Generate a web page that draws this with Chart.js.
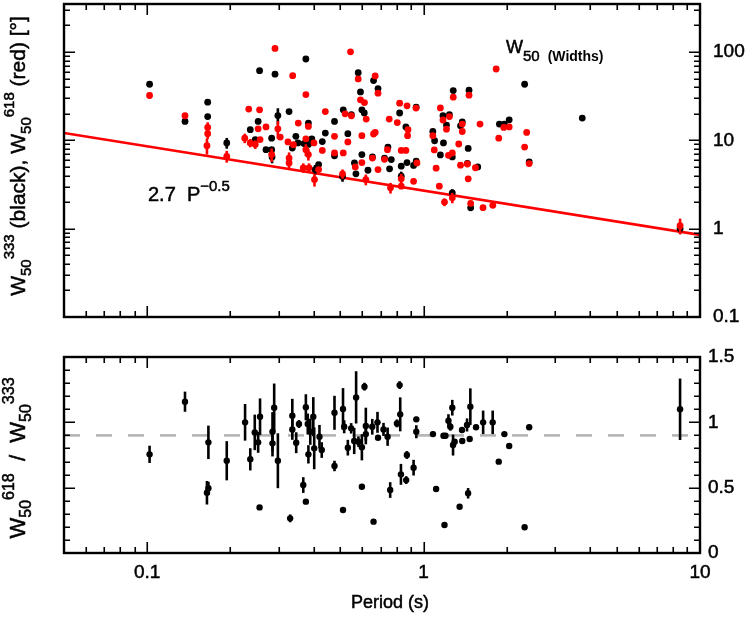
<!DOCTYPE html>
<html><head><meta charset="utf-8">
<script src="https://cdn.jsdelivr.net/npm/chart.js@4"></script>
<style>
html,body{margin:0;padding:0;background:#fff;}
#wrap{position:relative;width:750px;height:623px;background:#fff;}
canvas{position:absolute;left:0;top:0;}
</style>
</head><body>
<div id="wrap"><canvas id="c1" width="750" height="623"></canvas><canvas id="c2" width="750" height="623"></canvas></div>
<script>
// ---------- DATA ----------
// Top panel: W50 at 333 MHz (black)
const blackP = [0.102,0.137,0.1655,0.1655,0.194,0.255,0.290,0.236,0.252,0.246,0.269,0.282,0.282,0.283,0.297,0.326,0.375,0.58,0.591,0.598,0.61,0.659,0.684,0.383,0.345,0.351,0.369,0.394,0.383,0.335,0.405,0.417,0.43,0.441,0.476,0.476,0.509,0.512,0.532,0.548,0.562,0.569,0.598,0.629,0.653,0.722,0.743,0.753,0.764,0.819,0.83,0.83,0.863,0.871,0.92,0.94,0.94,1.08,1.096,2.32,3.75,1.28,1.46,1.24,1.175,1.21,1.38,1.36,1.88,1.96,2.04,2.41,1.18,1.15,1.27,1.45,1.44,1.57,1.27,1.48,8.47];
const blackW = [43.2,16.4,27.1,18.6,9.35,61.5,56.1,13.2,16.4,10.2,7.85,10.6,7.85,6.5,19.1,21.2,83.4,58.4,35.4,22.2,20.4,47.5,38.6,15.7,11.1,9.35,9.2,10.4,9.0,8.2,4.67,5.32,9.7,12.1,16.4,6.7,3.9,22.2,11.9,19.5,5.56,4.18,6.9,4.59,6.5,6.3,8.4,4.76,6.06,20.4,5.1,3.93,14.2,5.6,5.2,5.8,23.7,12.6,9.9,43.2,17.9,36.6,37,19.5,19.0,14.9,16.2,14.6,15.3,15.3,17.1,5.7,9.35,6.85,6.5,8.1,5.5,5.0,2.55,1.73,1.0];
const blackErr = [0,0,0,0,1.3,0,0,0,0,0,0,0,0,1.0,4,0,0,0,0,0,0,0,0,0,0,0,0,0,0,0,0.6,0,0,0,0,0,0.5,0,0,0,0,0,0,0,0,0,0,0,0,0,0,0.5,0,0,0,0,0,0,0,0,0,0,0,0,0,0,0,0,0,0,0,0,0,0,0,0,0,0,0.25,0.15,0.1];
// Top panel: W50 at 618 MHz (red)
const redP = [0.102,0.137,0.1655,0.1655,0.1645,0.194,0.233,0.255,0.290,0.2254,0.252,0.236,0.246,0.256,0.269,0.282,0.297,0.303,0.323,0.336,0.375,0.544,0.58,0.591,0.611,0.62,0.668,0.684,0.352,0.383,0.338,0.375,0.401,0.375,0.383,0.326,0.326,0.367,0.385,0.403,0.417,0.441,0.43,0.476,0.476,0.509,0.512,0.52,0.532,0.548,0.566,0.598,0.598,0.618,0.653,0.659,0.668,0.684,0.722,0.74,0.751,0.759,0.819,0.803,0.83,0.83,0.83,0.863,0.878,0.875,0.871,0.946,0.939,0.92,1.08,1.83,1.28,1.46,1.15,1.24,1.175,1.21,1.38,1.38,1.6,1.95,2.04,1.87,2.36,2.32,2.41,1.093,1.23,1.27,1.34,1.36,1.44,1.11,1.54,1.45,1.14,1.27,1.19,1.48,1.64,1.78,8.47];
const redW = [32.2,19.0,14.0,11.9,8.7,6.6,22.6,22.2,110,10.6,13.5,9.35,9.0,10.2,14.2,6.9,13.5,10.9,9.6,54,33,100.7,49.6,28.8,26.8,17.4,53.6,34.2,15.7,14.4,8.94,10.4,9.35,7.85,6.9,6.3,5.56,4.89,4.89,3.6,4.67,21.2,7.7,11.1,7.2,4.18,7.2,20,9.6,19,5.0,5.6,11.3,3.6,6.3,11.8,12.3,4.67,6.1,7.85,17.4,2.9,26.4,15.9,7.7,3.67,3.03,7.7,13.2,11.3,24.6,5.56,23.2,3.44,11.3,64.3,30.8,32.5,23.3,18.6,17.0,13.4,15.3,12.6,15.3,14.0,14.2,10.6,12.3,8.4,5.46,7.8,6.77,7.2,9.1,5.24,5.4,4.84,4.9,3.67,3.03,2.24,2.0,1.93,1.73,1.84,1.08];
const redErr = [2.5,0,2,1.5,1.8,1.0,0,0,0,1.3,0,1.0,1.0,0,0,1.2,3.0,0,0,0,0,0,0,0,0,0,0,0,0,0,0,0,0,1.2,1.0,1.0,0.8,0.6,0.6,0.6,0,0,0,0,0,0.5,0,0,0,0,0,0,0,0.5,0,0,0,0,0,0,0,0.4,0,0,0,0.5,0,0,0,0,0,0,0,0,0,0,0,0,0,0,0,0,0,0,0,0,0,0,0,0,0,0,0,0,0,0,0,0,0,0,0,0.3,0.2,0,0,0,0.22];
// Fit line 2.7 P^-0.5, end points read at the frame edges
const fitP = [0.05, 10];
const fitW = [12.1, 0.85];
// Bottom panel: W50(618)/W50(333)
const ratioP = [0.102,0.137,0.1665,0.1645,0.1665,0.194,0.226,0.236,0.245,0.252,0.256,0.255,0.288,0.284,0.284,0.297,0.335,0.335,0.346,0.354,0.375,0.381,0.383,0.367,0.375,0.329,0.389,0.399,0.402,0.42,0.428,0.476,0.476,0.511,0.516,0.511,0.570,0.611,0.547,0.532,0.561,0.581,0.598,0.618,0.618,0.598,0.652,0.681,0.684,0.659,0.716,0.741,0.801,0.823,0.819,0.87,0.828,0.865,0.92,0.757,0.941,0.941,1.081,1.11,1.18,1.2,1.19,1.23,1.27,1.25,1.278,1.295,1.35,1.38,1.377,1.449,1.436,1.468,1.476,1.548,1.642,1.778,1.87,1.96,2.04,2.32,2.41,8.47];
const ratioV = [0.755,1.158,0.847,0.461,0.495,0.706,1.0,0.717,0.923,0.847,1.043,0.349,1.112,0.928,0.839,0.706,1.05,0.946,0.844,0.987,1.115,0.987,0.755,0.52,0.393,0.265,0.928,1.043,0.801,0.89,0.788,1.073,0.666,1.102,0.966,0.329,1.191,1.273,0.954,0.806,0.857,0.852,0.809,0.972,0.91,0.507,0.966,1.0,0.882,0.24,0.946,0.89,0.992,1.061,1.285,0.75,0.602,0.558,0.653,0.482,1.023,0.928,0.91,0.49,0.897,0.897,0.214,1.012,1.112,0.966,0.826,0.852,0.354,0.857,0.941,0.457,0.98,0.872,1.12,0.962,1.0,1.0,0.699,0.91,0.819,0.197,0.962,1.1];
const ratioErr = [0.066,0.077,0.128,0.09,0.05,0.15,0.14,0.085,0.136,0.08,0.14,0,0.185,0.15,0.10,0.21,0.13,0.08,0.08,0.03,0.1,0.08,0.07,0.06,0,0.03,0.1,0.15,0.16,0.09,0.06,0.13,0.04,0.16,0.05,0,0.2,0.03,0.04,0.06,0.1,0.04,0.1,0.14,0.05,0,0.06,0.08,0,0,0.05,0.07,0.03,0.13,0.03,0.03,0.08,0.03,0.06,0.06,0.02,0.05,0.02,0.02,0.02,0.02,0.02,0.05,0.06,0.03,0.08,0,0,0,0.02,0.04,0.05,0,0.14,0.02,0.09,0.09,0,0,0,0,0.02,0.235];
const refRatio = 0.9;
// Axis ticks
const xTickVals = [0.1, 1, 10];
const xTickLabels = ['0.1', '1', '10'];
const yTopTickVals = [0.1, 1, 10, 100];
const yTopTickLabels = ['0.1', '1', '10', '100'];
const yBotTickVals = [0, 0.5, 1, 1.5];
const yBotTickLabels = ['0', '0.5', '1', '1.5'];
const xTitle = 'Period (s)';

// ---------- helpers ----------
const FONT = "'Liberation Sans', Arial, Helvetica, sans-serif";
const pts = (xs, ys) => xs.map((x, i) => ({x, y: ys[i]}));
function logMinor(min, max) {
  const out = [];
  for (let d = Math.floor(Math.log10(min)); d <= Math.ceil(Math.log10(max)); d++) {
    for (let k = 2; k <= 9; k++) { const v = k * Math.pow(10, d); if (v >= min * 0.999 && v <= max * 1.001) out.push(v); }
  }
  return out;
}
function drawRich(ctx, parts, x0, y0, rot, center) {
  ctx.save();
  ctx.translate(x0, y0); ctx.rotate(rot);
  ctx.fillStyle = '#000'; ctx.strokeStyle = '#000'; ctx.lineWidth = 0.5;
  ctx.textBaseline = 'alphabetic'; ctx.textAlign = 'left';
  let total = 0;
  const f = p => (p.b ? 'bold ' : '') + p.s + 'px ' + FONT;
  parts.forEach(p => { ctx.font = f(p); p.w = ctx.measureText(p.t).width + (p.gap || 0); total += p.w; });
  let x = center ? -total / 2 : 0;
  parts.forEach(p => { ctx.font = f(p); ctx.fillText(p.t, x + (p.gap || 0), p.dy || 0); if (!p.b) ctx.strokeText(p.t, x + (p.gap || 0), p.dy || 0); x += p.w; });
  ctx.restore();
}
const errorBars = {
  id: 'errorBars',
  beforeDatasetDraw(chart, args) {
    const ds = chart.data.datasets[args.index];
    if (!ds.errors) return;
    const ctx = chart.ctx, ys = chart.scales.y, xs = chart.scales.x;
    const a = chart.chartArea;
    ctx.save();
    ctx.beginPath(); ctx.rect(a.left, a.top, a.right - a.left, a.bottom - a.top); ctx.clip();
    ctx.strokeStyle = ds.backgroundColor; ctx.lineWidth = 2.6; ctx.lineCap = 'butt';
    ds.data.forEach((p, i) => {
      const e = ds.errors[i]; if (!e) return;
      const px = xs.getPixelForValue(p.x);
      const lo = Math.max(p.y - e, ys.min);
      ctx.beginPath();
      ctx.moveTo(px, ys.getPixelForValue(p.y + e));
      ctx.lineTo(px, ys.getPixelForValue(lo));
      ctx.stroke();
    });
    ctx.restore();
  }
};
function frameTicks(yMajor, yMinor) {
  return {
    id: 'frameTicks',
    afterDraw(chart) {
      const ctx = chart.ctx, a = chart.chartArea, xs = chart.scales.x, ys = chart.scales.y;
      ctx.save();
      ctx.strokeStyle = '#000';
      ctx.lineWidth = 1.6;
      const xMinor = logMinor(xs.min, xs.max);
      const tick = (v, len, isX) => {
        if (isX) {
          const p = Math.round(xs.getPixelForValue(v)) + 0.25;
          ctx.beginPath(); ctx.moveTo(p, a.bottom); ctx.lineTo(p, a.bottom - len);
          ctx.moveTo(p, a.top); ctx.lineTo(p, a.top + len); ctx.stroke();
        } else {
          const p = Math.round(ys.getPixelForValue(v)) + 0.25;
          ctx.beginPath(); ctx.moveTo(a.left, p); ctx.lineTo(a.left + len, p);
          ctx.moveTo(a.right, p); ctx.lineTo(a.right - len, p); ctx.stroke();
        }
      };
      xTickVals.forEach(v => tick(v, 11, true));
      xMinor.forEach(v => { if (!xTickVals.includes(v)) tick(v, 6, true); });
      yMajor.forEach(v => tick(v, 11, false));
      yMinor.forEach(v => tick(v, 6, false));
      ctx.lineWidth = 2.4;
      ctx.strokeRect(a.left, a.top, a.right - a.left, a.bottom - a.top);
      ctx.restore();
    }
  };
}
const annotTop = {
  id: 'annotTop',
  afterDraw(chart) {
    const ctx = chart.ctx;
    drawRich(ctx, [{t: 'W', s: 21}, {t: '50', s: 15, dy: 6}, {t: '333', s: 15, dy: -11}, {t: ' (black), W', s: 21}, {t: '50', s: 15, dy: 6}, {t: '618', s: 15, dy: -11}, {t: ' (red) [°]', s: 21}], 25, 156, -Math.PI / 2, true);
    drawRich(ctx, [{t: '2.7  P', s: 20}, {t: '\u22120.5', s: 15, dy: -10}], 148, 201, 0, false);
    drawRich(ctx, [{t: 'W', s: 18}, {t: '50', s: 15, dy: 8}, {t: '(Widths)', s: 14, dy: 8, gap: 8, b: true}], 506, 53, 0, false);
  }
};
const annotBot = {
  id: 'annotBot',
  afterDraw(chart) {
    drawRich(chart.ctx, [{t: 'W', s: 22}, {t: '50', s: 16, dy: 6}, {t: '618', s: 16, dy: -11}, {t: '  /  W', s: 22}, {t: '50', s: 16, dy: 6}, {t: '333', s: 16, dy: -11}], 25, 458, -Math.PI / 2, true);
    const ctx = chart.ctx;
    ctx.save();
    ctx.font = '18px ' + FONT; ctx.fillStyle = '#000'; ctx.strokeStyle = '#000'; ctx.lineWidth = 0.5;
    ctx.textAlign = 'center'; ctx.textBaseline = 'middle';
    ctx.fillText(xTitle, 390, 603); ctx.strokeText(xTitle, 390, 603);
    ctx.restore();
  }
};
const tickFont = {family: FONT, size: 19};

// ---------- top chart ----------
new Chart(document.getElementById('c1'), {
  type: 'scatter',
  data: {datasets: [
    {label: 'fit', data: pts(fitP, fitW), showLine: true, borderColor: '#ff0000', borderWidth: 2.6, pointRadius: 0, order: 3},
    {label: 'W50 333', data: pts(blackP, blackW), errors: blackErr, backgroundColor: '#000000', borderWidth: 0, pointRadius: 3.4, order: 2},
    {label: 'W50 618', data: pts(redP, redW), errors: redErr, backgroundColor: '#ff0000', borderWidth: 0, pointRadius: 3.4, order: 1}
  ]},
  options: {
    responsive: false, animation: false, events: [],
    layout: {padding: {left: 64, top: 3, right: 0, bottom: 0}},
    plugins: {legend: {display: false}, tooltip: {enabled: false}},
    scales: {
      x: {type: 'logarithmic', min: 0.05, max: 10, position: 'bottom',
          grid: {display: false, drawTicks: false}, border: {display: false},
          ticks: {display: false},
          afterFit(s) { s.height = 623 - 317; s.paddingLeft = 0; s.paddingRight = 0; }},
      y: {type: 'logarithmic', min: 0.1, max: 350, position: 'right',
          grid: {display: false, drawTicks: false}, border: {display: false},
          afterBuildTicks(s) { s.ticks = yTopTickVals.map(v => ({value: v})); },
          ticks: {font: tickFont, color: '#000', padding: 13, textStrokeColor: '#000', textStrokeWidth: 0.5,
                  callback: (v) => yTopTickLabels[yTopTickVals.indexOf(v)] ?? ''},
          afterFit(s) { s.width = 50; s.paddingTop = 0; s.paddingBottom = 0; }}
    }
  },
  plugins: [errorBars, frameTicks(yTopTickVals, logMinor(0.1, 350)), annotTop]
});

// ---------- bottom chart ----------
const yBotMinor = [];
for (let k = 1; k < 15; k++) if (k % 5) yBotMinor.push(k / 10);
new Chart(document.getElementById('c2'), {
  type: 'scatter',
  data: {datasets: [
    {label: 'ref', data: pts(fitP, [refRatio, refRatio]), showLine: true, borderColor: '#b4b4b4', borderWidth: 2.6, borderDash: [16, 16], pointRadius: 0, order: 3},
    {label: 'ratio', data: pts(ratioP, ratioV), errors: ratioErr, backgroundColor: '#000000', borderWidth: 0, pointRadius: 3.2, order: 1}
  ]},
  options: {
    responsive: false, animation: false, events: [],
    layout: {padding: {left: 64, top: 357, right: 0, bottom: 0}},
    plugins: {legend: {display: false}, tooltip: {enabled: false}},
    scales: {
      x: {type: 'logarithmic', min: 0.05, max: 10, position: 'bottom',
          grid: {display: false, drawTicks: false}, border: {display: false},
          afterBuildTicks(s) { s.ticks = xTickVals.map(v => ({value: v})); },
          ticks: {font: tickFont, color: '#000', padding: 8, maxRotation: 0, autoSkip: false,
                  textStrokeColor: '#000', textStrokeWidth: 0.5,
                  callback: (v) => xTickLabels[xTickVals.indexOf(v)] ?? ''},
          afterFit(s) { s.height = 623 - 553; s.paddingLeft = 0; s.paddingRight = 0; }},
      y: {type: 'linear', min: 0, max: 1.5, position: 'right',
          grid: {display: false, drawTicks: false}, border: {display: false},
          afterBuildTicks(s) { s.ticks = yBotTickVals.map(v => ({value: v})); },
          ticks: {font: tickFont, color: '#000', padding: 8, textStrokeColor: '#000', textStrokeWidth: 0.5,
                  callback: (v) => yBotTickLabels[yBotTickVals.indexOf(v)] ?? ''},
          afterFit(s) { s.width = 50; s.paddingTop = 0; s.paddingBottom = 0; }}
    }
  },
  plugins: [errorBars, frameTicks(yBotTickVals, yBotMinor), annotBot]
});
</script>
</body></html>
